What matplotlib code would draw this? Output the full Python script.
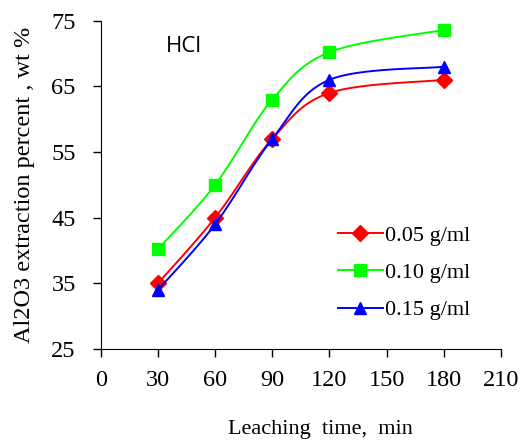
import numpy as np
import matplotlib
matplotlib.use('Agg')
import matplotlib.pyplot as plt

# data
time_min = [30, 60, 90, 120, 180]
conc_005 = [35.0, 45.0, 57.0, 64.0, 66.0]
conc_010 = [40.2, 50.0, 63.0, 70.2, 73.6]
conc_015 = [34.0, 44.0, 57.0, 66.0, 68.0]
labels = ['0.05 g/ml', '0.10 g/ml', '0.15 g/ml']
x_ticks = [0, 30, 60, 90, 120, 150, 180, 210]
y_ticks = [25, 35, 45, 55, 65, 75]


def smooth(x, y, n=30):
    # Excel-style smoothed line: Catmull-Rom segments drawn as cubic Bezier
    x = np.asarray(x, float)
    y = np.asarray(y, float)
    px = np.concatenate([[x[0]], x, [x[-1]]])
    py = np.concatenate([[y[0]], y, [y[-1]]])
    xs, ys = [], []
    t = np.linspace(0, 1, n)
    for i in range(1, len(px) - 2):
        p0 = np.array([px[i], py[i]])
        p3 = np.array([px[i + 1], py[i + 1]])
        p1 = p0 + (np.array([px[i + 1], py[i + 1]]) - np.array([px[i - 1], py[i - 1]])) / 6
        p2 = p3 - (np.array([px[i + 2], py[i + 2]]) - np.array([px[i], py[i]])) / 6
        b = ((1 - t) ** 3)[:, None] * p0 + (3 * (1 - t) ** 2 * t)[:, None] * p1 \
            + (3 * (1 - t) * t ** 2)[:, None] * p2 + (t ** 3)[:, None] * p3
        xs.extend(b[:, 0])
        ys.extend(b[:, 1])
    return xs, ys


plt.rcParams['font.family'] = 'Liberation Serif'

fig = plt.figure(figsize=(5.25, 4.46), dpi=100)
ax = fig.add_axes([0.192, 0.2175, 0.762, 0.736])

series = [
    (conc_005, '#ff0000', 'D', 8),
    (conc_010, '#00ff00', 's', 8),
    (conc_015, '#0000ff', '^', 9),
]
for (vals, col, mk, ms), lab in zip(series, labels):
    sx, sy = smooth(time_min, vals)
    ax.plot(sx, sy, color=col, lw=1.4)
    ax.plot(time_min, vals, linestyle='none', marker=mk, markersize=ms, color=col)
    # proxy for legend (line + marker)
    ax.plot([], [], color=col, lw=1.4, marker=mk, markersize=ms, label=lab)

ax.set_xlim(0, 210)
ax.set_ylim(25, 75)
ax.set_xticks(x_ticks)
ax.set_yticks(y_ticks)
ax.spines['top'].set_visible(False)
ax.spines['right'].set_visible(False)
ax.tick_params(direction='out', length=6, labelsize=17.5, width=1)
ax.tick_params(axis='x', pad=9)
ax.tick_params(axis='y', pad=12)

ax.set_xlabel('Leaching  time,  min', fontsize=16)
ax.xaxis.set_label_coords(0.548, -0.215)
ax.set_ylabel('Al2O3 extraction percent , wt %', fontsize=17.5, labelpad=12)

ax.text(34, 70.3, 'HCl', fontsize=16, family='Open Sans', va='baseline')

ax.legend(loc='lower right', bbox_to_anchor=(0.973, 0.026), frameon=False,
          fontsize=16, handlelength=2.0, handletextpad=0.1, labelspacing=0.75)

fig.savefig('out.png', dpi=100)
